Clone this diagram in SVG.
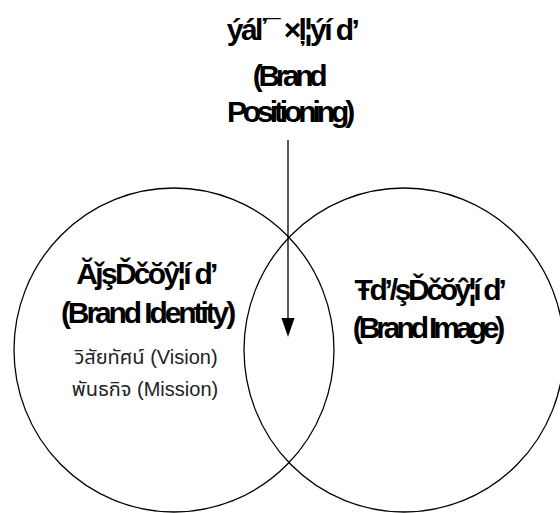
<svg xmlns="http://www.w3.org/2000/svg" width="560" height="513" viewBox="0 0 560 513">
<style>
.c{fill:none;stroke:#000;stroke-width:1.3}
.b{font-family:"Liberation Sans",Arial,sans-serif;font-weight:bold;font-size:30px;fill:#000;text-anchor:middle}
.t{font-family:"Liberation Sans","Noto Sans Thai","Noto Sans",sans-serif;font-size:20px;fill:#222;text-anchor:middle}
.l{stroke:#000;stroke-width:1.3;fill:none}
</style>
<rect width="560" height="513" fill="#fff"/>
<g id="identity">
<ellipse class="c" cx="174" cy="350" rx="160" ry="162"/>
<text class="b" x="146" y="284" letter-spacing="-2.7">ĂǰşĎčŏŷ¦í d’</text>
<text class="b" x="147" y="323" letter-spacing="-3.1">(Brand Identity)</text>
<text class="t" x="146" y="364">วิสัยทัศน์ (Vision)</text>
<text class="t" x="145" y="396">พันธกิจ (Mission)</text>
</g>
<g id="image">
<ellipse class="c" cx="404" cy="350" rx="160" ry="162"/>
<text class="b" x="429" y="300" letter-spacing="-3.3">Ŧd’/şĎčŏŷ¦í d’</text>
<text class="b" x="427" y="338" letter-spacing="-4.1">(Brand Image)</text>
</g>
<g id="positioning">
<text class="b" x="292" y="40" letter-spacing="-2.6">ýáľ¯ ×ļ¦ýí d’</text>
<text class="b" x="288" y="86" letter-spacing="-4.4">(Brand</text>
<text class="b" x="289" y="122" letter-spacing="-4.1">Positioning)</text>
</g>
<g id="connectors">
<line class="l" x1="288" y1="140" x2="288" y2="320"/>
<path d="M281.5,318 L294.5,318 L288,337 Z" fill="#000"/>
</g>
</svg>
